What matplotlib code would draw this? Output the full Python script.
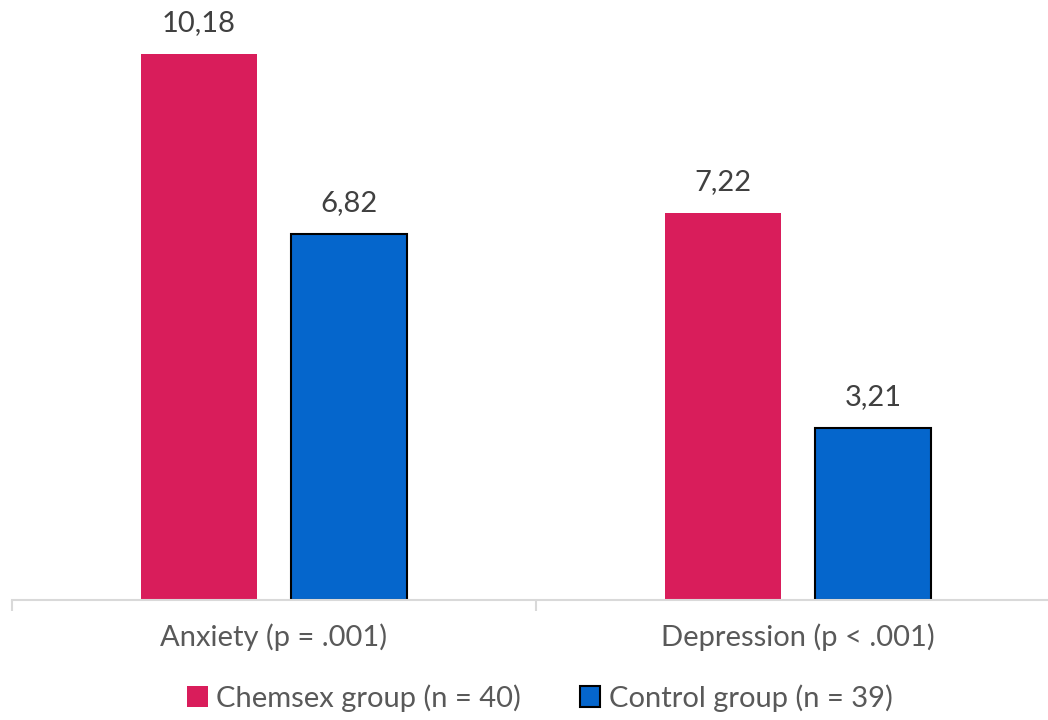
import matplotlib
matplotlib.use("Agg")
import matplotlib.pyplot as plt
import numpy as np

categories = ["Anxiety (p = .001)", "Depression (p < .001)"]
series_names = ["Chemsex group (n = 40)", "Control group (n = 39)"]
chemsex = [10.18, 7.22]
control = [6.82, 3.21]

plt.rcParams["font.family"] = ["Lato", "DejaVu Sans"]

fig = plt.figure(figsize=(10.48, 7.2), dpi=100)
ax = fig.add_axes([12 / 1048, 120 / 720, 1048 / 1048, 600 / 720])

x = np.arange(len(categories))
width = 0.222
offset = 0.143

b1 = ax.bar(x - offset, chemsex, width, color="#D91D5B", edgecolor="none",
            label=series_names[0])
b2 = ax.bar(x + offset, control, width, color="#0566CC", edgecolor="black",
            linewidth=1.5, label=series_names[1])

for bars, vals in ((b1, chemsex), (b2, control)):
    for rect, v in zip(bars, vals):
        ax.annotate(f"{v:.2f}".replace(".", ","),
                    (rect.get_x() + rect.get_width() / 2, v),
                    xytext=(0, 13), textcoords="offset points",
                    ha="center", va="bottom", fontsize=21, color="#404040")

ax.set_xlim(-0.5, 1.5)
ax.set_ylim(0, 11.19)
ax.set_yticks([])
for s in ("top", "right", "left"):
    ax.spines[s].set_visible(False)
ax.spines["bottom"].set_color("#D9D9D9")
ax.spines["bottom"].set_linewidth(1.5)

ax.set_xticks(x)
ax.set_xticklabels(categories, fontsize=21, color="#595959")
ax.tick_params(axis="x", length=0, pad=17)
ax.set_xticks([-0.5, 0.5, 1.5], minor=True)
ax.tick_params(axis="x", which="minor", length=8, width=1.5, color="#D9D9D9")

leg = fig.legend(handles=[b1, b2], labels=series_names, loc="center",
                 bbox_to_anchor=(540 / 1048, 1 - 698 / 720), ncol=2,
                 frameon=False, fontsize=21, labelcolor="#595959",
                 handlelength=0.7, handleheight=0.7, handletextpad=0.3,
                 columnspacing=2.0)

fig.savefig("out.png", dpi=100)
